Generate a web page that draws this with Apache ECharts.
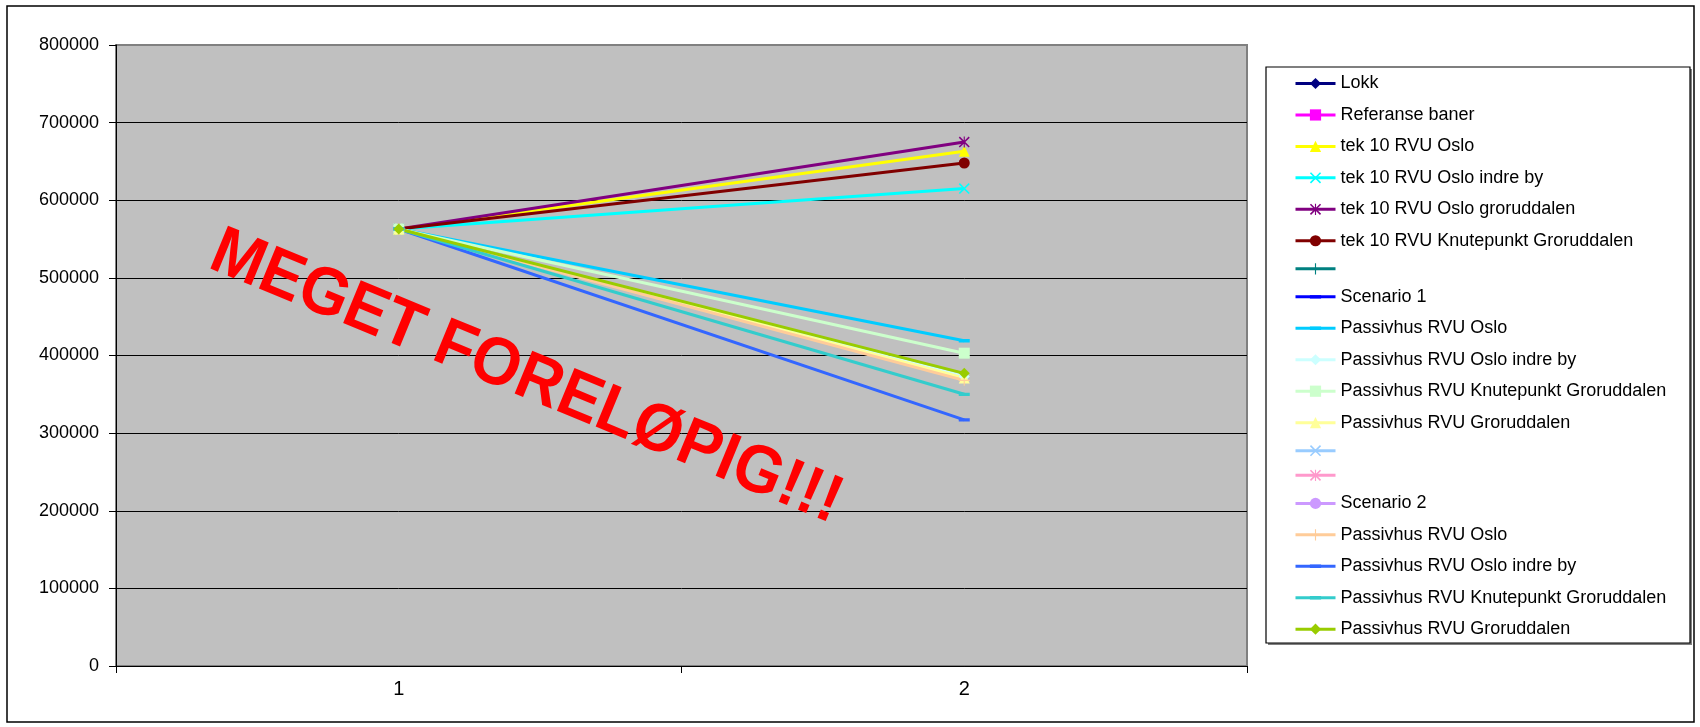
<!DOCTYPE html>
<html>
<head>
<meta charset="utf-8">
<script src="https://cdn.jsdelivr.net/npm/echarts@6/dist/echarts.min.js"></script>
<style>
  html, body { margin: 0; padding: 0; background: #fff; }
  #chart { width: 1700px; height: 727px; }
</style>
</head>
<body>
<div id="chart"></div>
<script>
// Categories on the x axis
const categories = ['1', '2'];

// Y axis ticks
const yMin = 0;
const yMax = 800000;
const yStep = 100000;

// Series values (one value per category); empty arrays have no points
const lokk = [];
const referanseBaner = [];
const tek10Oslo = [563000, 663000];
const tek10OsloIndreBy = [563000, 615000];
const tek10OsloGroruddalen = [563000, 675000];
const tek10KnutepunktGroruddalen = [563000, 648000];
const blankA = [];
const scenario1 = [];
const s1PassivOslo = [563000, 419000];
const s1PassivOsloIndreBy = [563000, 373000];
const s1PassivKnutepunkt = [563000, 403000];
const s1PassivGroruddalen = [563000, 371000];
const blankB = [];
const blankC = [];
const scenario2 = [];
const s2PassivOslo = [563000, 368000];
const s2PassivOsloIndreBy = [563000, 317000];
const s2PassivKnutepunkt = [563000, 350000];
const s2PassivGroruddalen = [563000, 377000];

// Legend labels (a "#n" suffix keeps repeated labels apart; it is not drawn)
const labels = [
  'Lokk', 'Referanse baner', 'tek 10 RVU Oslo', 'tek 10 RVU Oslo indre by',
  'tek 10 RVU Oslo groruddalen', 'tek 10 RVU Knutepunkt Groruddalen', '#1',
  'Scenario 1', 'Passivhus RVU Oslo', 'Passivhus RVU Oslo indre by',
  'Passivhus RVU Knutepunkt Groruddalen', 'Passivhus RVU Groruddalen', '#2', '#3',
  'Scenario 2', 'Passivhus RVU Oslo#4', 'Passivhus RVU Oslo indre by#5',
  'Passivhus RVU Knutepunkt Groruddalen#6', 'Passivhus RVU Groruddalen#7'
];

const seriesData = [
  lokk, referanseBaner, tek10Oslo, tek10OsloIndreBy, tek10OsloGroruddalen,
  tek10KnutepunktGroruddalen, blankA, scenario1, s1PassivOslo, s1PassivOsloIndreBy,
  s1PassivKnutepunkt, s1PassivGroruddalen, blankB, blankC, scenario2,
  s2PassivOslo, s2PassivOsloIndreBy, s2PassivKnutepunkt, s2PassivGroruddalen
];

// Marker shapes (all drawn in a 20x20 box)
const PLUS = 'path://M9,0h2v20h-2zM0,9h20v2h-20z';
const CROSS = 'path://M2,0L10,8L18,0L20,2L12,10L20,18L18,20L10,12L2,20L0,18L8,10L0,2Z';
const STAR = 'path://M2,0L10,8L18,0L20,2L12,10L20,18L18,20L10,12L2,20L0,18L8,10L0,2ZM9,0h2v20h-2z';
// short horizontal bar; the two tiny specks keep the box square
const DASH = 'path://M0,7h20v6h-20zM10,0h0.01v0.01h-0.01zM10,20h0.01v-0.01h-0.01z';

const styles = [
  { color: '#000080', symbol: 'diamond' },
  { color: '#FF00FF', symbol: 'rect' },
  { color: '#FFFF00', symbol: 'triangle' },
  { color: '#00FFFF', symbol: CROSS },
  { color: '#800080', symbol: STAR },
  { color: '#800000', symbol: 'circle' },
  { color: '#008080', symbol: PLUS },
  { color: '#0000FF', symbol: DASH },
  { color: '#00CCFF', symbol: DASH },
  { color: '#CCFFFF', symbol: 'diamond' },
  { color: '#CCFFCC', symbol: 'rect' },
  { color: '#FFFF99', symbol: 'triangle' },
  { color: '#99CCFF', symbol: CROSS },
  { color: '#FF99CC', symbol: STAR },
  { color: '#CC99FF', symbol: 'circle' },
  { color: '#FFCC99', symbol: PLUS },
  { color: '#3366FF', symbol: DASH },
  { color: '#33CCCC', symbol: DASH },
  { color: '#99CC00', symbol: 'diamond' }
];

const series = labels.map((name, i) => ({
  name: name,
  type: 'line',
  data: seriesData[i],
  symbol: styles[i].symbol,
  symbolSize: 11,
  symbolKeepAspect: true,
  showSymbol: true,
  animation: false,
  lineStyle: { color: styles[i].color, width: 3 },
  itemStyle: { color: styles[i].color },
  emphasis: { disabled: true }
}));

const FONT = '"Liberation Sans", Arial, sans-serif';

const chart = echarts.init(document.getElementById('chart'), null, { renderer: 'canvas' });
chart.setOption({
  animation: false,
  backgroundColor: '#ffffff',
  grid: {
    left: 116, right: 453, top: 45, bottom: 61,
    show: true,
    backgroundColor: '#C0C0C0',
    borderColor: '#808080',
    borderWidth: 2
  },
  xAxis: {
    type: 'category',
    data: categories,
    boundaryGap: true,
    axisLine: { lineStyle: { color: '#000', width: 1 } },
    axisTick: { show: true, length: 7, alignWithLabel: false, lineStyle: { color: '#000' } },
    axisLabel: { color: '#000', fontSize: 20, fontFamily: FONT, margin: 13 },
    splitLine: { show: false }
  },
  yAxis: {
    type: 'value',
    min: yMin, max: yMax, interval: yStep,
    axisLine: { show: true, lineStyle: { color: '#000', width: 1 } },
    axisTick: { show: true, length: 7, lineStyle: { color: '#000' } },
    axisLabel: {
      color: '#000', fontSize: 18, fontFamily: FONT, margin: 17,
      formatter: v => String(v)
    },
    splitLine: {
      show: true,
      lineStyle: {
        color: ['#000', '#000', '#000', '#000', '#000', '#000', '#000', '#000', '#808080'],
        width: 1
      }
    }
  },
  legend: {
    orient: 'vertical',
    left: 1294,
    top: 74.5,
    padding: 0,
    itemWidth: 40,
    itemHeight: 14,
    itemGap: 13.45,
    selectedMode: false,
    data: labels,
    lineStyle: { width: 3 },
    formatter: name => name.replace(/#\d+$/, ''),
    textStyle: { color: '#000', fontSize: 18, lineHeight: 18, fontFamily: FONT }
  },
  graphic: {
    elements: [
      {
        type: 'rect', z: 0,
        shape: { x: 7, y: 6, width: 1687, height: 716 },
        style: { fill: 'none', stroke: '#000', lineWidth: 1.5 }
      },
      {
        type: 'rect', z: 0,
        shape: { x: 1268, y: 69, width: 424, height: 576 },
        style: { fill: '#808080' }
      },
      {
        type: 'rect', z: 1,
        shape: { x: 1266, y: 67, width: 424, height: 576 },
        style: { fill: '#fff', stroke: '#000', lineWidth: 1.2 }
      },
      {
        type: 'text', z: 100,
        x: 526, y: 378,
        rotation: -22.3 * Math.PI / 180,
        scaleY: 1.07,
        style: {
          text: 'MEGET FORELØPIG!!!',
          fill: '#FF0000',
          font: 'bold 63px "Liberation Sans", Arial, sans-serif',
          textAlign: 'center',
          textVerticalAlign: 'middle'
        }
      }
    ]
  },
  series: series
});
</script>
</body>
</html>
